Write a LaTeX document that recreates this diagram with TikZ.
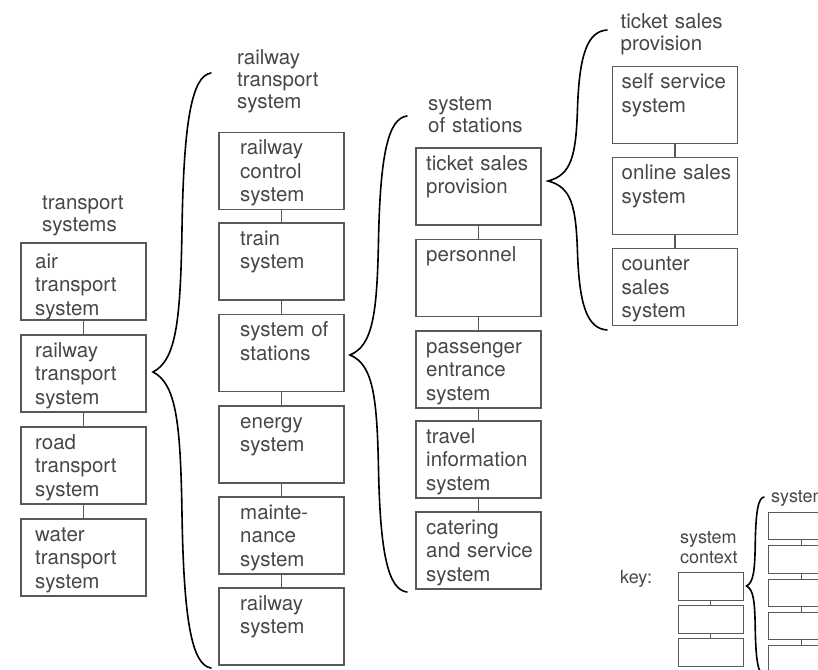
\documentclass[tikz,border=0pt]{standalone}
\usepackage{fontspec}
\setmainfont{TeX Gyre Heros}

% a box of the hierarchy with its text set from the top left corner
% #1 vertical offset of first baseline, #2 name, #3 left, #4 top, #5 text indent, #6 text
\newcommand\sysbox[6][22]{%
  \node[box] (#2) at (#3,#4) {};
  \node[boxtext] (#2-t) at ([xshift=#5pt,yshift=-#1pt]#2.north west) {#6};}

% curly brace: #1 x of the two ends, #2 y of top end, #3 x of tip, #4 y of tip, #5 y of bottom end
\newcommand\drawbrace[5]{%
  \draw[brace] (#1,#2)
    .. controls ({#1-0.33*(#1-#3)},{#2+0.01*(#4-#2)}) and ({#1-0.47*(#1-#3)},{#2+0.16*(#4-#2)})
    .. ({#1-0.5*(#1-#3)},{#2+0.52*(#4-#2)})
    .. controls ({#1-0.526*(#1-#3)},{#2+0.83*(#4-#2)}) and ({#1-0.6*(#1-#3)},{#2+0.96*(#4-#2)})
    .. (#3,#4)
    .. controls ({#1-0.6*(#1-#3)},{#5-0.96*(#5-#4)}) and ({#1-0.526*(#1-#3)},{#5-0.83*(#5-#4)})
    .. ({#1-0.5*(#1-#3)},{#5-0.52*(#5-#4)})
    .. controls ({#1-0.47*(#1-#3)},{#5-0.16*(#5-#4)}) and ({#1-0.33*(#1-#3)},{#5-0.01*(#5-#4)})
    .. (#1,#5);}

\begin{document}
\begin{tikzpicture}[x=1pt,y=-1pt,
  box/.style={draw=black!65, line width=1.1pt, minimum width=125pt, minimum height=77pt,
    inner sep=0pt, outer sep=0pt, anchor=north west},
  boxtext/.style={text=black!72, text width=118pt, align=left, inner sep=0pt,
    anchor=base west, font=\fontsize{20.5}{23.5}\selectfont},
  title/.style={text=black!72, text width=160pt, align=left, inner sep=0pt,
    anchor=base west, font=\fontsize{20.5}{22}\selectfont},
  conn/.style={draw=black!65, line width=1.1pt},
  brace/.style={draw=black, line width=1.6pt, line cap=round},
  keybox/.style={draw=black!65, line width=1pt, minimum width=65pt, minimum height=28pt,
    inner sep=0pt, outer sep=0pt, anchor=north west},
  keytext/.style={text=black!72, text width=100pt, align=left, inner sep=0pt,
    anchor=base west, font=\fontsize{18}{20}\selectfont},
]
\useasboundingbox (0,0) rectangle (818,669);
\clip (0,0) rectangle (818,669);

% transport systems
\node[title] (t1) at (42,209) {transport\\systems};
\sysbox[25]{a1}{21}{243}{14}{air\\transport\\system}
\sysbox{a2}{21}{335}{14}{railway\\transport\\system}
\sysbox{a3}{21}{427}{14}{road\\transport\\system}
\sysbox{a4}{21}{519}{14}{water\\transport\\system}
\draw[conn] (a1.south) -- (a2.north);
\draw[conn] (a2.south) -- (a3.north);
\draw[conn] (a3.south) -- (a4.north);

% railway transport system
\node[title] (t2) at (237,64) {railway\\transport\\system};
\sysbox{b1}{219}{132.5}{21}{railway\\control\\system}
\sysbox{b2}{219}{223}{21}{train\\system}
\sysbox{b3}{219}{314.5}{21}{system of\\stations}
\sysbox{b4}{219}{406}{21}{energy\\system}
\sysbox{b5}{219}{497}{21}{mainte-\\nance\\system}
\sysbox{b6}{219}{588}{21}{railway\\system}
\draw[conn] (b1.south) -- (b2.north);
\draw[conn] (b2.south) -- (b3.north);
\draw[conn] (b3.south) -- (b4.north);
\draw[conn] (b4.south) -- (b5.north);
\draw[conn] (b5.south) -- (b6.north);

% system of stations
\node[title] (t3) at (428,110) {system\\of stations};
\sysbox{c1}{416}{148}{10}{ticket sales\\provision}
\sysbox{c2}{416}{239.5}{10}{personnel}
\sysbox{c3}{416}{331}{10}{passenger\\entrance\\system}
\sysbox{c4}{416}{421}{10}{travel\\information\\system}
\sysbox{c5}{416}{512}{10}{catering\\and service\\system}
\draw[conn] (c1.south) -- (c2.north);
\draw[conn] (c2.south) -- (c3.north);
\draw[conn] (c3.south) -- (c4.north);
\draw[conn] (c4.south) -- (c5.north);

% ticket sales provision
\node[title] (t4) at (620.5,29) {ticket sales\\provision};
\sysbox{d1}{612.5}{66.5}{9}{self service\\system}
\sysbox{d2}{612.5}{157.5}{9}{online sales\\system}
\sysbox{d3}{612.5}{248.5}{9}{counter\\sales\\system}
\draw[conn] (d1.south) -- (d2.north);
\draw[conn] (d2.south) -- (d3.north);

% braces opening each level
\drawbrace{211}{73}{153}{372}{668}
\drawbrace{407}{116}{350}{355}{592}
\drawbrace{607}{30}{548}{181}{330}

% key
\node[keytext] (key) at (620,583) {key:};
\node[keytext] (kt1) at (680,543) {system\\context};
\node[keybox] (k1) at (678,572) {};
\node[keybox] (k2) at (678,605) {};
\node[keybox] (k3) at (678,638) {};
\draw[conn, line width=1pt] (k1.south) -- (k2.north);
\draw[conn, line width=1pt] (k2.south) -- (k3.north);
\drawbrace{764}{497}{746.5}{586}{675}
\node[keytext] (kt2) at (771,502) {system};
\node[keybox, minimum width=66pt, minimum height=27.5pt] (m1) at (768,512) {};
\node[keybox, minimum width=66pt, minimum height=27.5pt] (m2) at (768,545.5) {};
\node[keybox, minimum width=66pt, minimum height=27.5pt] (m3) at (768,579) {};
\node[keybox, minimum width=66pt, minimum height=27.5pt] (m4) at (768,612) {};
\node[keybox, minimum width=66pt, minimum height=27.5pt] (m5) at (768,645) {};
\draw[conn, line width=1pt] (m1.south) -- (m2.north);
\draw[conn, line width=1pt] (m2.south) -- (m3.north);
\draw[conn, line width=1pt] (m3.south) -- (m4.north);
\draw[conn, line width=1pt] (m4.south) -- (m5.north);
\end{tikzpicture}
\end{document}
